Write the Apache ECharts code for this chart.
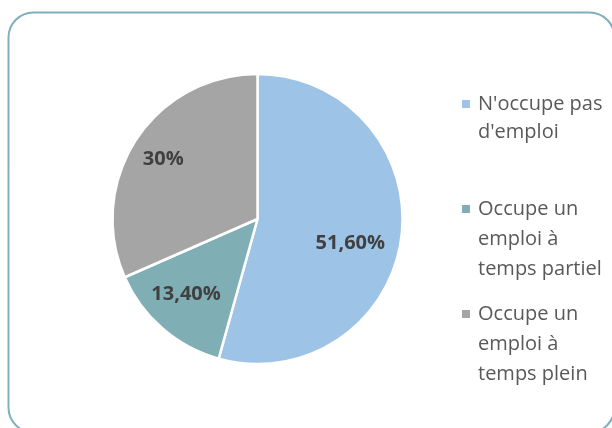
<!DOCTYPE html>
<html>
<head>
<meta charset="utf-8">
<script src="https://cdn.jsdelivr.net/npm/echarts@6/dist/echarts.min.js"></script>
<style>
html,body{margin:0;padding:0;background:#fff;}
#c{width:612px;height:428px;}
</style>
</head>
<body>
<div id="c"></div>
<script>
// Data
const categories = ["N'occupe pas d'emploi", "Occupe un emploi à temps partiel", "Occupe un emploi à temps plein"];
const legendLabels = ["N'occupe pas\nd'emploi", "Occupe un\nemploi à\ntemps partiel", "Occupe un\nemploi à\ntemps plein"];
const values = [51.6, 13.4, 30];
const valueLabels = ["51,60%", "13,40%", "30%"];
const colors = ['#9DC3E6', '#7FAFB5', '#A5A5A5'];

const chart = echarts.init(document.getElementById('c'), null, {renderer: 'canvas'});

// label nudges (Excel best-fit placement)
const labelShift = [[18, 14], [-22, 18], [-31, -18]];

const legendTops = [62, 134, 239];
const legendLH = [28, 30, 30];

const legends = categories.map((name, i) => {
  const lines = legendLabels[i].split('\n').length;
  const pad = '\n'.repeat(lines - 1);
  return {
    data: [name],
    orient: 'vertical',
    left: 462,
    top: legendTops[i],
    itemWidth: 8,
    itemHeight: 8,
    icon: 'rect',
    itemStyle: {borderWidth: 0},
    selectedMode: false,
    padding: 0,
    formatter: () => pad + legendLabels[i],
    textStyle: {
      fontFamily: 'Open Sans',
      fontSize: 20,
      color: '#595959',
      lineHeight: legendLH[i],
      padding: [0, 0, 0, 3]
    }
  };
});

chart.setOption({
  animation: false,
  color: colors,
  graphic: [{
    type: 'rect',
    shape: {x: 8.5, y: 12.5, width: 606, height: 420, r: 25},
    style: {fill: 'none', stroke: '#7FB0BF', lineWidth: 2},
    silent: true,
    z: -1
  }],
  legend: legends,
  series: [{
    type: 'pie',
    center: [257.5, 219],
    radius: 145,
    startAngle: 90,
    clockwise: true,
    avoidLabelOverlap: false,
    itemStyle: {borderColor: '#ffffff', borderWidth: 2.5},
    label: {
      show: true,
      position: 'inside',
      fontFamily: 'Open Sans',
      fontWeight: 'bold',
      fontSize: 20,
      color: '#404040',
      formatter: (p) => valueLabels[p.dataIndex]
    },
    labelLine: {show: false},
    labelLayout: (p) => ({dx: labelShift[p.dataIndex][0], dy: labelShift[p.dataIndex][1]}),
    emphasis: {disabled: true},
    data: categories.map((n, i) => ({name: n, value: values[i]}))
  }]
});
</script>
</body>
</html>
